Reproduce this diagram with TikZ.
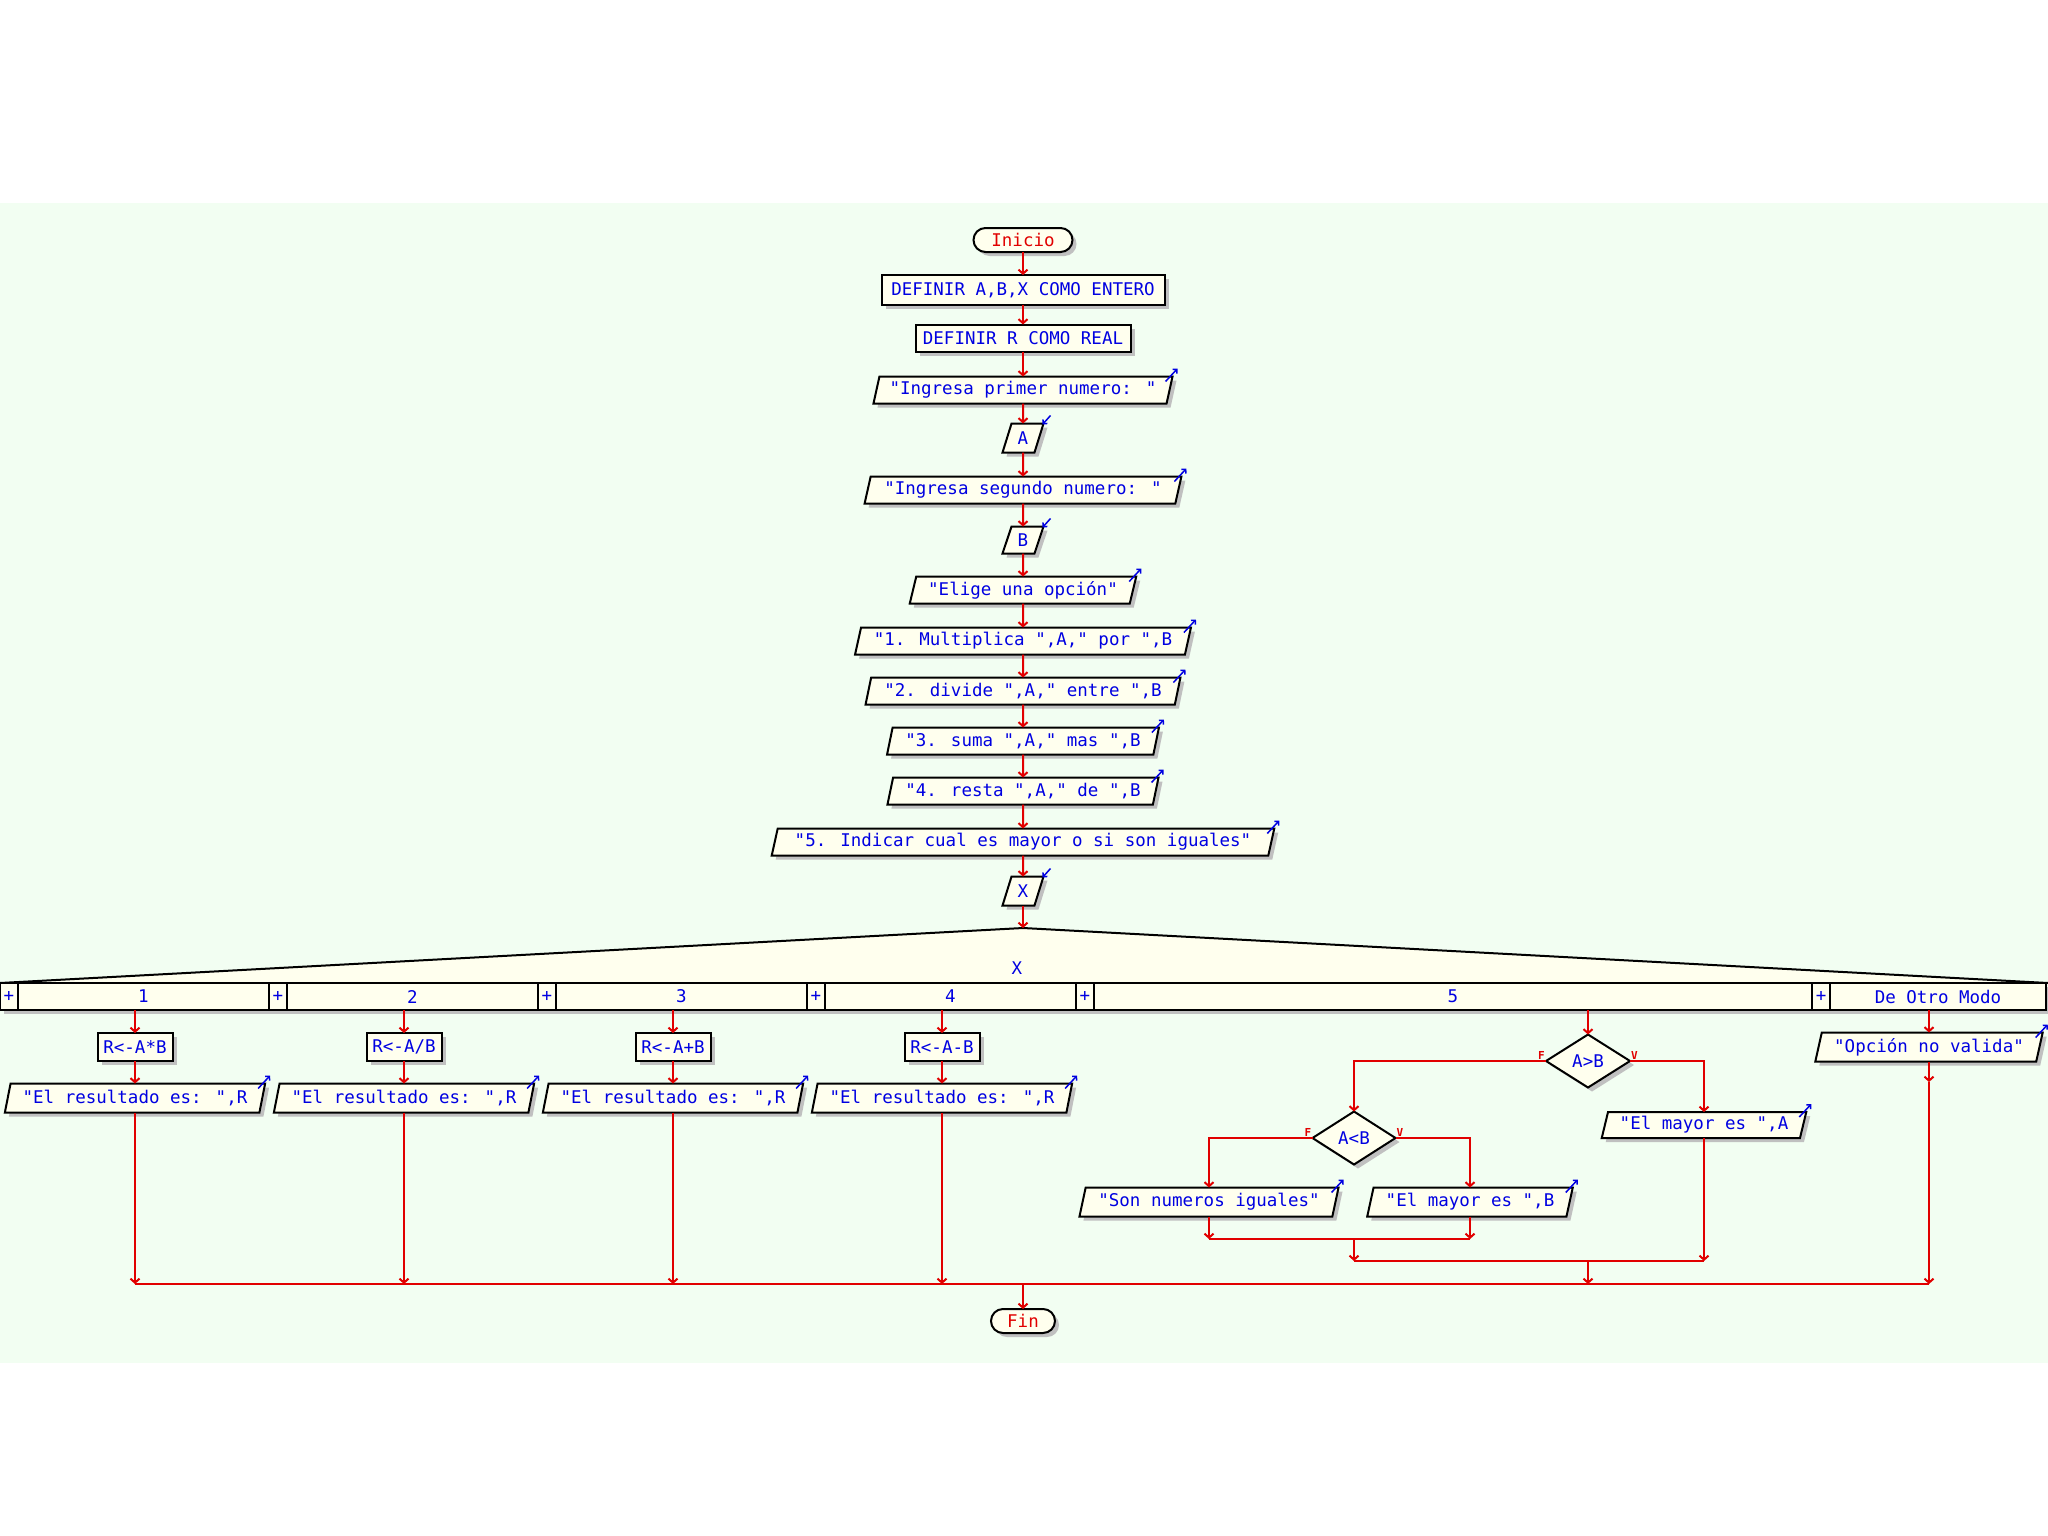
\documentclass[tikz,border=0pt]{standalone}
\usepackage{fontspec}
\setmainfont{DejaVu Sans Mono}[Ligatures=TeXOff]
\usetikzlibrary{shapes.geometric,shadows,arrows.meta}
\definecolor{fondo}{RGB}{242,254,242}
\definecolor{crema}{RGB}{255,255,238}
\definecolor{azul}{RGB}{0,0,225}
\definecolor{rojo}{RGB}{225,0,0}
\definecolor{sombra}{RGB}{192,192,192}
\begin{document}
\begin{tikzpicture}[x=1pt,y=-1pt,line cap=butt,line join=miter,>={Straight Barb[length=4pt,width=9pt]}]
	\tikzset{caja/.style={draw,fill=crema,line width=2pt,text=azul,inner sep=0pt,outer sep=0pt,
			font=\fontsize{17.5}{20}\selectfont,
			drop shadow={shadow xshift=4pt,shadow yshift=-4pt,fill=sombra,opacity=1}},
		proceso/.style={caja,rectangle,minimum height=28pt},
		terminal/.style={caja,rectangle,rounded corners=12pt,minimum height=24pt,minimum width=99pt,text=rojo},
		salida/.style={caja,trapezium,trapezium left angle=72,trapezium right angle=108,
			trapezium stretches=true,minimum height=27pt},
		entrada/.style={salida,minimum width=41pt,minimum height=29pt},
		decision/.style={caja,diamond,minimum width=84pt,minimum height=53pt},
		celda/.style={caja,rectangle,minimum height=27pt},
		flujo/.style={rojo,line width=2pt,->},
		linea/.style={rojo,line width=2pt},
		marca/.style={azul,line width=1.5pt,-{Straight Barb[length=3pt,width=6pt]}},
		rotulo/.style={text=rojo,font=\fontsize{11}{12}\selectfont\bfseries,inner sep=1pt}
	}
	\useasboundingbox (0,0) rectangle (2048,1536);
	\fill[fondo] (0,203) rectangle (2048,1363);
	\node[terminal] (ini) at (1023,240) {Inicio};
	\node[proceso,minimum width=283pt,minimum height=30pt] (def1) at (1023,290) {DEFINIR A,B,X COMO ENTERO};
	\node[proceso,minimum width=215pt,minimum height=27pt] (def2) at (1023,338) {DEFINIR R COMO REAL};
	\node[salida,minimum width=300pt] (m1) at (1023,390) {"Ingresa primer numero: "};
	\node[entrada] (leeA) at (1023,438) {A};
	\node[salida,minimum width=317pt] (m2) at (1023,490) {"Ingresa segundo numero: "};
	\node[entrada,minimum height=27pt] (leeB) at (1023,540) {B};
	\node[salida,minimum width=227pt] (m3) at (1023,590) {"Elige una opción"};
	\node[salida,minimum width=337pt] (m4) at (1023,641) {"1. Multiplica ",A," por ",B};
	\node[salida,minimum width=316pt] (m5) at (1023,691) {"2. divide ",A," entre ",B};
	\node[salida,minimum width=272pt] (m6) at (1023,741) {"3. suma ",A," mas ",B};
	\node[salida,minimum width=272pt] (m7) at (1023,791) {"4. resta ",A," de ",B};
	\node[salida,minimum width=503pt] (m8) at (1023,842) {"5. Indicar cual es mayor o si son iguales"};
	\node[entrada] (leeX) at (1023,891) {X};
	\foreach \a/\b in {ini/def1,def1/def2,def2/m1,m1/leeA,leeA/m2,m2/leeB,leeB/m3,m3/m4,m4/m5,m5/m6,m6/m7,m7/m8,m8/leeX}
		\draw[flujo] (\a) -- (\b);
	\coordinate (punta) at (1023,928);
	\draw[line width=2pt,fill=crema] (0,983) -- (punta) -- (2048,983);
	\node[text=azul,font=\fontsize{17.5}{20}\selectfont] (var) at (1017,968) {X};
	\draw[flujo] (leeX) -- (punta);
	\foreach \i in {1,...,4}{
		\node[celda,minimum width=18pt] (p\i) at ({9+269*(\i-1)},996.5) {+};
		\node[celda,minimum width=251pt] (k\i) at ({143.5+269*(\i-1)},996.5) {\i};
	}
	\node[celda,minimum width=18pt] (p5) at (1085,996.5) {+};
	\node[celda,minimum width=718pt] (k5) at (1453,996.5) {5};
	\node[celda,minimum width=18pt] (p6) at (1821,996.5) {+};
	\node[celda,minimum width=216pt] (k6) at (1938,996.5) {De Otro Modo};
	\coordinate (bus) at (1023,1284);
	\foreach \i/\t in {1/R<-A*B,2/{R<-A/B},3/R<-A+B,4/R<-A-B}{
		\node[proceso,minimum width=75pt] (r\i) at ({135+269*(\i-1)},1047) {\t};
		\node[salida,minimum width=261pt,minimum height=29pt] (s\i) at ({135+269*(\i-1)},1098) {"El resultado es: ",R};
		\draw[flujo] (r\i |- k\i.south) -- (r\i);
		\draw[flujo] (r\i) -- (s\i);
		\draw[flujo] (s\i) -- (s\i |- bus);
	}
	\node[decision] (may) at (1588,1061) {A>B};
	\draw[flujo] (may |- k5.south) -- (may);
	\node[decision,minimum width=83pt] (men) at (1354,1138) {A<B};
	\node[salida,minimum width=205pt,minimum height=26pt] (mayA) at (1704,1125) {"El mayor es ",A};
	\draw[flujo] (may.west) -| (men);
	\draw[flujo] (may.east) -| (mayA);
	\node[rotulo,above left] (f1) at (may.west) {F};
	\node[rotulo,above right] (v1) at (may.east) {V};
	\node[salida,minimum width=260pt,minimum height=29pt] (igu) at (1209,1202) {"Son numeros iguales"};
	\node[salida,minimum width=206pt,minimum height=29pt] (mayB) at (1470,1202) {"El mayor es ",B};
	\draw[flujo] (men.west) -| (igu);
	\draw[flujo] (men.east) -| (mayB);
	\node[rotulo,above left] (f2) at (men.west) {F};
	\node[rotulo,above right] (v2) at (men.east) {V};
	\coordinate (j1) at (1354,1239);
	\coordinate (j2) at (1588,1261);
	\draw[flujo] (igu) -- (igu |- j1);
	\draw[flujo] (mayB) -- (mayB |- j1);
	\draw[linea] (igu |- j1) -- (mayB |- j1);
	\draw[flujo] (j1) -- (men |- j2);
	\draw[flujo] (mayA) -- (mayA |- j2);
	\draw[linea] (men |- j2) -- (mayA |- j2);
	\draw[flujo] (j2) -- (j2 |- bus);
	\node[salida,minimum width=228pt,minimum height=29pt] (otro) at (1929,1047) {"Opción no valida"};
	\draw[flujo] (otro |- k6.south) -- (otro);
	\coordinate (c6) at (1929,1082);
	\draw[flujo] (otro) -- (c6);
	\draw[flujo] (c6) -- (c6 |- bus);
	\draw[linea] (r1 |- bus) -- (otro |- bus);
	\node[terminal,minimum width=64pt] (fin) at (1023,1321) {Fin};
	\draw[flujo] (bus) -- (fin);
	\foreach \n in {m1,m2,m3,m4,m5,m6,m7,m8,s1,s2,s3,s4,mayA,igu,mayB,otro}
		\draw[marca] ([shift={(-7,5)}]\n.top right corner) -- ([shift={(5,-8)}]\n.top right corner);
	\foreach \n in {leeA,leeB,leeX}
		\draw[marca] ([shift={(7,-8)}]\n.top right corner) -- ([shift={(-1,1)}]\n.top right corner);
\end{tikzpicture}
\end{document}
